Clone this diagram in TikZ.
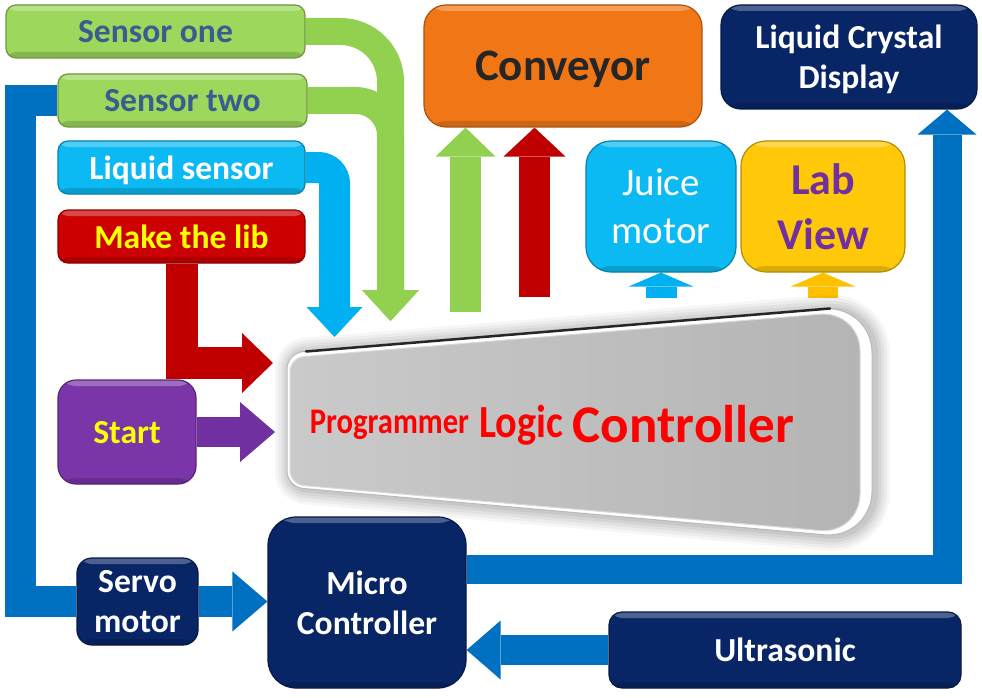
\documentclass[tikz,border=0pt]{standalone}
\usepackage{fontspec}
\setmainfont{Carlito}
\usetikzlibrary{arrows.meta}
\definecolor{sgreen}{HTML}{9DD85C}
\definecolor{agreen}{HTML}{92D050}
\definecolor{stext}{HTML}{3A5D8F}
\definecolor{cyanbox}{HTML}{0BBAF3}
\definecolor{acyan}{HTML}{00B0F0}
\definecolor{redbox}{HTML}{CC0000}
\definecolor{ared}{HTML}{C00000}
\definecolor{purplebox}{HTML}{7A36A8}
\definecolor{apurple}{HTML}{7030A0}
\definecolor{navy}{HTML}{082566}
\definecolor{ablue}{HTML}{0070C0}
\definecolor{orangebox}{HTML}{F17716}
\definecolor{convtext}{HTML}{262626}
\definecolor{yellowbox}{HTML}{FFC90A}
\definecolor{ayellow}{HTML}{FFC000}
\definecolor{labtext}{HTML}{7030A0}
\definecolor{ytext}{HTML}{FFFF00}
\definecolor{plcred}{HTML}{FF0000}
\definecolor{plclight}{HTML}{CACACA}
\definecolor{plcdark}{HTML}{B4B4B4}
\pgfdeclarelayer{bglayer}
\pgfdeclarelayer{connlayer}
\pgfsetlayers{bglayer,connlayer,main}
\def\plcouter{[rounded corners=16pt] (287,420) -- (287,353) [rounded corners=48pt] -- (872,305) -- (872,539) [rounded corners=16pt] -- (287,487) -- cycle}
\begin{document}
\begin{tikzpicture}[x=1pt,y=-1pt,
  box/.style={draw, line width=1.2pt, inner sep=0pt, text depth=0pt, align=center,
    font=\bfseries\fontsize{33.6}{40}\selectfont,
    path picture={
      \fill[white,opacity=.28] (path picture bounding box.north west) rectangle ([yshift=-6pt]path picture bounding box.north east);
      \fill[black,opacity=.15] ([yshift=6pt]path picture bounding box.south west) rectangle (path picture bounding box.south east);}},
  conn/.style={line width=#1, line cap=butt, line join=miter},
  htip/.style 2 args={arrows={-Triangle[width=#1,length=#2,line width=0pt]}}
]
\begin{pgfonlayer}{bglayer}
\fill[white] (0,0) rectangle (982,698);
\end{pgfonlayer}
\useasboundingbox (0,0) rectangle (982,698);

% ---------- PLC shape ----------
\foreach \w/\o in {30/0.035,24/0.04,18/0.045,12/0.05,6/0.06}{
  \draw[xshift=3pt, yshift=-1pt, line width=\w pt, black, opacity=\o, line join=round] \plcouter;
}
\path[fill=white, draw=gray!55, line width=1pt] \plcouter;
\path[left color=plclight, right color=plcdark, draw=white!70!gray, line width=1pt]
  [rounded corners=14pt] (290,420) -- (290,357.7) [rounded corners=40pt] -- (860,311) -- (860,534) [rounded corners=14pt] -- (290,484.3) -- cycle;
\draw[line width=2.5pt, black!85, line cap=round] (306,351.5) -- (830,308.5);
\node[anchor=base, text=plcred, font=\bfseries, inner sep=0pt] (plc) at (552,437)
  {\raisebox{4pt}{\fontsize{36}{36}\selectfont\addfontfeature{FakeStretch=0.85}Programmer}\hspace{10pt}{\fontsize{46}{46}\selectfont\addfontfeature{FakeStretch=0.875}Logic}\hspace{10pt}\raisebox{-5pt}{\fontsize{53}{53}\selectfont Controller}};

% ---------- nodes ----------
\coordinate (plcLiq) at (334.5,337);
\coordinate (plcS) at (390.5,321);
\coordinate (plcLib) at (273,363);
\coordinate (plcStart) at (275,432);
\coordinate (plcG) at (465.5,312);
\coordinate (plcR) at (534.5,297);
\coordinate (plcJ) at (661,298);
\coordinate (plcL) at (823,298);

\path
  node[box, fill=sgreen, draw=sgreen!70!black, text=stext, rounded corners=10pt, minimum width=299pt, minimum height=53pt] (sone) at (155.5,31.5) {Sensor one}
  node[box, fill=sgreen, draw=sgreen!70!black, text=stext, rounded corners=10pt, minimum width=249pt, minimum height=53pt] (stwo) at (182.5,100.5) {Sensor two}
  node[box, fill=cyanbox, draw=cyanbox!70!black, text=white, rounded corners=10pt, minimum width=247pt, minimum height=53pt] (liq) at (181.5,167.5) {Liquid sensor}
  node[box, fill=redbox, draw=redbox!70!black, text=ytext, rounded corners=10pt, minimum width=247pt, minimum height=53pt] (lib) at (181.5,236.5) {Make the lib}
  node[box, fill=purplebox, draw=purplebox!70!black, text=ytext, rounded corners=18pt, minimum width=138pt, minimum height=104pt] (start) at (127,432) {Start}
  node[box, fill=navy, draw=navy!70!black, text=white, rounded corners=15pt, minimum width=121pt, minimum height=87pt] (servo) at (137.5,601.5) {Servo\\motor}
  node[box, fill=navy, draw=navy!70!black, text=white, rounded corners=28pt, minimum width=198pt, minimum height=171pt] (micro) at (367,602.5) {Micro\\Controller}
  node[box, fill=navy, draw=navy!70!black, text=white, rounded corners=13pt, minimum width=352pt, minimum height=76pt] (ultra) at (785,650) {Ultrasonic}
  node[box, fill=orangebox, draw=orangebox!70!black, text=convtext, rounded corners=22pt, minimum width=278pt, minimum height=122pt, font=\bfseries\fontsize{45}{50}\selectfont] (conv) at (563,66) {Conveyor}
  node[box, fill=navy, draw=navy!70!black, text=white, rounded corners=20pt, minimum width=256pt, minimum height=104pt] (lcd) at (849,57) {Liquid Crystal\\Display}
  node[box, fill=cyanbox, draw=cyanbox!70!black, text=white, rounded corners=25pt, minimum width=150pt, minimum height=131pt, font=\mdseries\fontsize{39}{48}\selectfont] (juice) at (661,206.5) {Juice\\motor}
  node[box, fill=yellowbox, draw=yellowbox!70!black, text=labtext, rounded corners=25pt, minimum width=164pt, minimum height=131pt, font=\bfseries\fontsize{44}{55}\selectfont] (lab) at (823,206.5) {Lab\\View};

% ---------- connectors (behind the boxes) ----------
\begin{pgfonlayer}{connlayer}
\draw[conn=31pt, ablue] (servo.west) -- ++(-55.5,0) |- (stwo.west);
\draw[conn=27pt, agreen, rounded corners=50pt, htip={57pt}{31pt}] (sone.east) -| (plcS);
\draw[conn=27pt, agreen, rounded corners=35pt, htip={57pt}{31pt}] (stwo.east) -| (plcS);
\draw[conn=31pt, acyan, rounded corners=16pt, htip={56pt}{30pt}] (liq.east) -| (plcLiq);
\draw[conn=32pt, ared, htip={60pt}{31pt}] (lib.south) |- (plcLib);
\draw[conn=30pt, apurple, htip={60pt}{35pt}] (start.east) -- (plcStart);
\draw[conn=31pt, agreen, htip={60pt}{29pt}] (plcG) -- ([xshift=-97.5pt]conv.south);
\draw[conn=31pt, ared, htip={62pt}{29pt}] (plcR) -- ([xshift=-28.5pt]conv.south);
\draw[conn=31pt, acyan, htip={65pt}{14pt}] (plcJ) -- (juice.south);
\draw[conn=30pt, ayellow, htip={65pt}{14pt}] (plcL) -- (lab.south);
\draw[conn=31pt, ablue, htip={60pt}{35pt}] (servo.east) -- (micro.west |- servo.east);
\draw[conn=30pt, ablue, htip={59pt}{34pt}] (ultra.west) -- (micro.east |- ultra.west);
\draw[conn=29pt, ablue, htip={59pt}{25pt}] ([yshift=33.5pt]micro.east) -| ([xshift=98pt]lcd.south);
\end{pgfonlayer}
\end{tikzpicture}
\end{document}
